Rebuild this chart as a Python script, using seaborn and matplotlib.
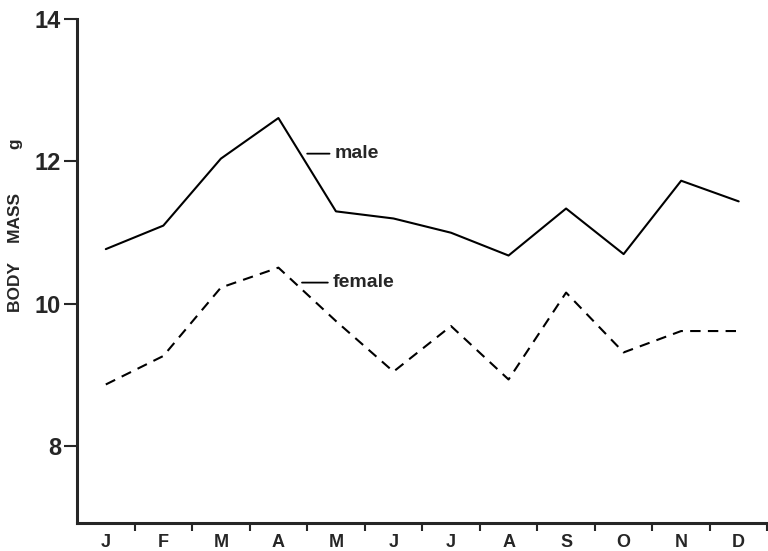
import numpy as np
import pandas as pd
import matplotlib
matplotlib.use("Agg")
import matplotlib.pyplot as plt
import seaborn as sns

months = ['J', 'F', 'M', 'A', 'M', 'J', 'J', 'A', 'S', 'O', 'N', 'D']
male = [10.77, 11.10, 12.04, 12.61, 11.30, 11.20, 11.00, 10.68, 11.34, 10.70, 11.73, 11.44]
female = [8.87, 9.27, 10.23, 10.51, 9.76, 9.05, 9.69, 8.94, 10.16, 9.32, 9.62, 9.62]
yticks = [8, 10, 12, 14]

pos = np.arange(len(months))
df = pd.DataFrame({
    'month': np.concatenate([pos, pos]),
    'mass': male + female,
    'sex': ['male'] * len(male) + ['female'] * len(female),
})

sns.set_style("ticks")
plt.rcParams['font.family'] = ['Liberation Sans', 'DejaVu Sans']
plt.rcParams['font.weight'] = 'bold'

fig = plt.figure(figsize=(7.68, 5.51), dpi=100)
ax = fig.add_axes([0.1003, 0.0514, 0.899, 0.9141])

sns.lineplot(data=df, x='month', y='mass', style='sex',
             style_order=['male', 'female'],
             dashes={'male': '', 'female': (5, 3.5)},
             color='black', linewidth=1.5, legend=False, ax=ax)

ax.set_xlim(-0.5, 11.5)
ax.set_ylim(6.93, 14)
ax.set_yticks(yticks)
ax.set_yticklabels([str(t) for t in yticks], fontsize=17, fontweight='bold')
ax.set_xticks(pos)
ax.set_xticklabels(months, fontsize=13, fontweight='bold')
ax.set_xticks(pos + 0.5, minor=True)
ax.tick_params(axis='x', which='major', length=0, pad=8)
ax.tick_params(axis='x', which='minor', length=6, width=1.5, direction='out')
ax.tick_params(axis='y', length=9.5, width=1.5, direction='out', pad=2)

sns.despine(ax=ax)
ax.spines['left'].set_linewidth(2.2)
ax.spines['bottom'].set_linewidth(2.2)

# 纵轴标题，手动定位
ax.set_xlabel('')
ax.set_ylabel('BODY    MASS         g', fontsize=12.5, fontweight='bold', va='center')
ax.yaxis.set_label_coords(-0.0897, 0.591)

ax.annotate('male', xy=(3.50, 12.11), xytext=(3.97, 12.11),
            fontsize=14, fontweight='bold', va='center', ha='left',
            arrowprops=dict(arrowstyle='-', color='black', lw=1.3, shrinkA=1, shrinkB=0))
ax.annotate('female', xy=(3.41, 10.30), xytext=(3.94, 10.30),
            fontsize=14, fontweight='bold', va='center', ha='left',
            arrowprops=dict(arrowstyle='-', color='black', lw=1.3, shrinkA=1, shrinkB=0))

plt.savefig('out.png', dpi=100)
